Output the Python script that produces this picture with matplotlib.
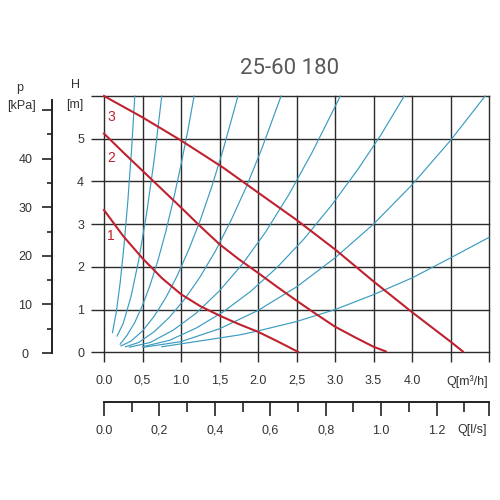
import matplotlib
matplotlib.use("Agg")
import matplotlib.pyplot as plt

# ---------------- data ----------------
title = "25-60 180"

q_ticks = [0.0, 0.5, 1.0, 1.5, 2.0, 2.5, 3.0, 3.5, 4.0, 4.5, 5.0]
q_labels = ["0.0", "0,5", "1.0", "1,5", "2.0", "2,5", "3.0", "3.5", "4.0", "", ""]
h_ticks = [0, 1, 2, 3, 4, 5, 6]
h_labels = ["0", "1", "2", "3", "4", "5", ""]

p_major = [0, 10, 20, 30, 40, 50]
p_labels = ["0", "10", "20", "30", "40", ""]
p_minor = [5, 15, 25, 35, 45]
p_max = 52.06

ls_major = [0.0, 0.2, 0.4, 0.6, 0.8, 1.0, 1.2]
ls_labels = ["0.0", "0,2", "0,4", "0,6", "0,8", "1.0", "1.2"]
ls_minor = [0.1, 0.3, 0.5, 0.7, 0.9, 1.1, 1.3]
ls_max = 1.3889

# pump curves (speed 1, 2, 3): Q [m3/h], H [m]
pump_names = ["1", "2", "3"]
pump_q = [
    [0.0, 0.25, 0.5, 0.75, 1.0, 1.25, 1.5, 1.75, 2.0, 2.25, 2.52],
    [0.0, 0.25, 0.5, 0.75, 1.0, 1.25, 1.5, 1.75, 2.0, 2.25, 2.5, 2.75, 3.0, 3.25, 3.5, 3.66],
    [0.0, 0.5, 1.0, 1.55, 2.0, 2.5, 3.0, 3.5, 4.0, 4.5, 4.66],
]
pump_h = [
    [3.33, 2.72, 2.20, 1.74, 1.36, 1.08, 0.86, 0.66, 0.48, 0.26, 0.01],
    [5.12, 4.68, 4.25, 3.82, 3.39, 2.95, 2.53, 2.18, 1.86, 1.53, 1.21, 0.90, 0.60, 0.36, 0.13, 0.02],
    [6.0, 5.50, 4.96, 4.32, 3.74, 3.10, 2.41, 1.66, 0.94, 0.25, 0.02],
]
pump_label_pos = [(0.09, 2.72), (0.09, 4.55), (0.09, 5.51)]

# system curves: Q [m3/h], H [m]
sys_q = [
    [0.11, 0.16, 0.21, 0.26, 0.31, 0.36, 0.40],
    [0.17, 0.25, 0.35, 0.45, 0.55, 0.65, 0.75],
    [0.21, 0.30, 0.40, 0.50, 0.60, 0.70, 0.80, 0.90, 1.00, 1.09, 1.17],
    [0.22, 0.35, 0.50, 0.65, 0.80, 0.95, 1.10, 1.25, 1.40, 1.55, 1.74],
    [0.28, 0.45, 0.65, 0.85, 1.05, 1.25, 1.45, 1.65, 1.85, 2.05, 2.30],
    [0.33, 0.60, 0.90, 1.20, 1.50, 1.80, 2.10, 2.40, 2.70, 3.07],
    [0.50, 0.85, 1.20, 1.55, 1.90, 2.25, 2.60, 2.95, 3.30, 3.60, 3.90],
    [0.52, 1.00, 1.50, 2.00, 2.50, 3.00, 3.50, 4.00, 4.50, 4.95],
    [0.75, 1.30, 1.77, 2.00, 2.50, 3.00, 3.50, 4.00, 4.50, 5.00],
]
sys_h = [
    [0.46, 0.95, 1.63, 2.50, 3.55, 4.80, 6.0],
    [0.38, 0.68, 1.30, 2.15, 3.21, 4.48, 6.0],
    [0.19, 0.40, 0.70, 1.10, 1.58, 2.15, 2.81, 3.56, 4.39, 5.20, 6.0],
    [0.15, 0.26, 0.50, 0.84, 1.27, 1.79, 2.40, 3.09, 3.88, 4.76, 6.0],
    [0.13, 0.23, 0.48, 0.82, 1.25, 1.77, 2.38, 3.09, 3.88, 4.77, 6.0],
    [0.12, 0.23, 0.52, 0.92, 1.44, 2.07, 2.82, 3.69, 4.67, 6.0],
    [0.13, 0.28, 0.57, 0.95, 1.42, 1.99, 2.66, 3.43, 4.29, 5.10, 6.0],
    [0.12, 0.25, 0.55, 0.98, 1.53, 2.21, 3.00, 3.92, 4.96, 6.0],
    [0.13, 0.28, 0.41, 0.50, 0.72, 1.00, 1.35, 1.74, 2.21, 2.69],
]

# ---------------- style ----------------
FONT = "Liberation Sans"
TXT = "#333333"
GRID = "#2b2b2b"
BLUE = "#3a9cc0"
RED = "#c0212f"
plt.rcParams["font.family"] = [FONT, "DejaVu Sans"]

W = 500.0
def fx(px):
    return px / W
def fy(py):
    return 1 - py / W

fig = plt.figure(figsize=(5, 5), dpi=100)
fig.patch.set_facecolor("white")

# main chart
ax = fig.add_axes([fx(104), fy(352.3), 385 / W, 256.3 / W])
ax.set_xlim(0, 5)
ax.set_ylim(0, 6)
for s in ax.spines.values():
    s.set_visible(False)
ax.set_xticks(q_ticks)
ax.set_xticklabels(q_labels)
ax.set_yticks(h_ticks)
ax.set_yticklabels(h_labels)
ax.grid(True, color=GRID, lw=1.0)
for gl in ax.get_xgridlines() + ax.get_ygridlines():
    gl.set_clip_on(False)
ax.tick_params(axis="x", direction="out", length=7.2, width=1.0, color=GRID,
               pad=9, labelsize=9, labelcolor=TXT)
ax.tick_params(axis="y", direction="out", length=9.4, width=1.0, color=GRID,
               pad=7.5, labelsize=9, labelcolor=TXT)
for t in ax.get_yticklabels():
    t.set_horizontalalignment("center")

for q, h in zip(sys_q, sys_h):
    ax.plot(q, h, color=BLUE, lw=0.85, clip_on=False, zorder=3)
for q, h in zip(pump_q, pump_h):
    ax.plot(q, h, color=RED, lw=1.5, clip_on=False, zorder=4)
for name, (x, y) in zip(pump_names, pump_label_pos):
    ax.text(x, y, name, color=RED, fontsize=10, ha="center", va="center", zorder=5)

# pressure axis
axp = fig.add_axes([fx(52), fy(353), 0.02, 253 / W])
axp.set_facecolor("none")
axp.set_ylim(0, p_max)
axp.set_xticks([])
for k in ["top", "right", "bottom"]:
    axp.spines[k].set_visible(False)
axp.spines["left"].set_linewidth(1.4)
axp.spines["left"].set_color("#222222")
axp.set_yticks(p_major)
axp.set_yticklabels(p_labels)
axp.set_yticks(p_minor, minor=True)
axp.tick_params(axis="y", which="major", direction="out", length=7.2, width=1.2,
                color="#222222", pad=12, labelsize=9, labelcolor=TXT)
axp.tick_params(axis="y", which="minor", direction="out", length=3.6, width=1.2,
                color="#222222")
for t in axp.get_yticklabels():
    t.set_horizontalalignment("center")

# flow axis in l/s
axq = fig.add_axes([fx(104), fy(402.3), 385 / W, 0.02])
axq.set_facecolor("none")
axq.set_xlim(0, ls_max)
axq.set_yticks([])
for k in ["top", "right", "left"]:
    axq.spines[k].set_visible(False)
axq.spines["bottom"].set_linewidth(1.4)
axq.spines["bottom"].set_color("#222222")
axq.set_xticks(ls_major + [ls_max])
axq.set_xticklabels(ls_labels + [""])
axq.set_xticks(ls_minor, minor=True)
axq.tick_params(axis="x", which="major", direction="out", length=10, width=1.2,
                color="#222222", pad=6, labelsize=9, labelcolor=TXT)
axq.tick_params(axis="x", which="minor", direction="out", length=7, width=1.2,
                color="#222222")

# texts
fig.text(fx(290), fy(68), title, fontsize=16, color="#595959", ha="center",
         va="center", family=["Roboto", "DejaVu Sans"])
fig.text(fx(20), fy(88), "p", fontsize=9, color=TXT, ha="center", va="center")
fig.text(fx(21), fy(106), "[kPa]", fontsize=9, color=TXT, ha="center", va="center")
fig.text(fx(76), fy(85), "H", fontsize=9, color=TXT, ha="center", va="center")
fig.text(fx(75), fy(105), "[m]", fontsize=9, color=TXT, ha="center", va="center")
fig.text(fx(488), fy(382), "Q[m³/h]", fontsize=9, color=TXT, ha="right", va="center")
fig.text(fx(487), fy(430), "Q[l/s]", fontsize=9, color=TXT, ha="right", va="center")

fig.savefig("out.png", dpi=100, facecolor="white")
